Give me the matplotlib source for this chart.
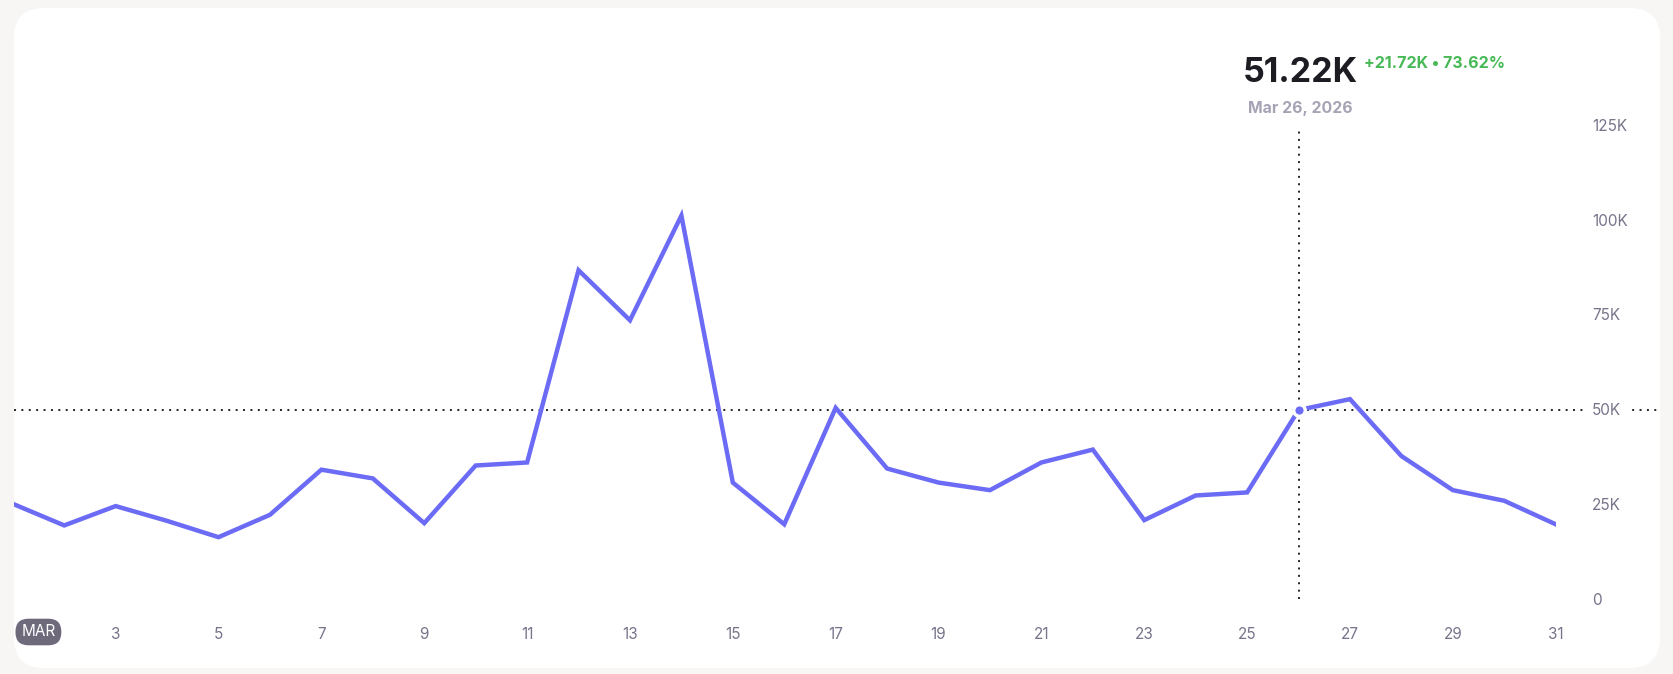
import matplotlib
matplotlib.use("Agg")
import matplotlib.pyplot as plt
from matplotlib.patches import FancyBboxPatch
from matplotlib.transforms import blended_transform_factory, ScaledTranslation

plt.rcParams["font.family"] = ["Inter", "DejaVu Sans"]

# daily values for March 2026, in thousands
days = list(range(1, 32))
values = [26.5, 20.8, 25.9, 22.0, 17.7, 23.6, 35.5, 33.2, 21.4, 36.6,
          37.4, 88.1, 74.9, 102.5, 32.1, 21.1, 51.8, 35.8, 32.1, 30.1,
          37.4, 40.8, 22.2, 28.7, 29.50, 51.22, 54.1, 39.1, 30.1, 27.3,
          21.1]
x_ticks = [3, 5, 7, 9, 11, 13, 15, 17, 19, 21, 23, 25, 27, 29, 31]
y_ticks = [0, 25, 50, 75, 100, 125]
y_labels = ["0", "25K", "50K", "75K", "100K", "125K"]
hover_day = 26
hover_value = 51.22
headline = "51.22K"
change_text = "+21.72K \u2022 73.62%"
date_text = "Mar 26, 2026"

LINE = "#6b6bf6"
GREY = "#78738a"
W, H = 1674, 674

fig = plt.figure(figsize=(W / 100, H / 100), dpi=100)
fig.patch.set_facecolor("#f7f6f4")

# white rounded card, behind everything
card = FancyBboxPatch((14, H - 668), 1646, 660,
                      boxstyle="round,pad=0,rounding_size=30",
                      transform=None, facecolor="white", edgecolor="none",
                      zorder=-5)
fig.patches.append(card)

ax = fig.add_axes([12.8 / W, 1 - 604.3 / H, (1555.7 - 12.8) / W, (604.3 - 130.3) / H])
ax.set_zorder(2)
ax.set_facecolor("none")
for s in ax.spines.values():
    s.set_visible(False)
ax.set_xlim(1, 31)
ax.set_ylim(0, 125)

# hover guides
dot = (0, (1, 2.8))
hz = blended_transform_factory(fig.transFigure, ax.transData)
ax.plot([14 / W, 1658 / W], [hover_value, hover_value], transform=hz,
        color="#222222", lw=1.4, ls=dot, clip_on=False, zorder=1)
ax.vlines(hover_day, 1.4, 125, color="#222222", lw=1.4, linestyles=dot, zorder=1)

line, = ax.plot(days, values, color=LINE, lw=3.2, solid_joinstyle="miter",
                zorder=3)
line.set_clip_path(card)
ax.plot([hover_day], [hover_value], "o", ms=8.3, mfc=LINE, mec="white",
        mew=2.4, zorder=4, clip_on=False)

ax.set_xticks(x_ticks)
ax.set_xticklabels([str(d) for d in x_ticks])
ax.tick_params(axis="x", length=0, pad=16, labelsize=11, labelcolor=GREY)

ax.yaxis.tick_right()
ax.set_yticks(y_ticks)
ax.set_yticklabels(y_labels)
ax.tick_params(axis="y", length=0, pad=26, labelsize=11, labelcolor=GREY)
shift = ScaledTranslation(0, 5.4 / 100, fig.dpi_scale_trans)
for lab in ax.get_yticklabels():
    lab.set_transform(lab.get_transform() + shift)
    lab.set_horizontalalignment("left")
    if lab.get_text() == "50K":
        lab.set_bbox(dict(facecolor="white", edgecolor="none", pad=5))

# month pill
fig.text(38.4 / W, 1 - 632 / H, "MAR", ha="center", va="center",
         fontsize=11, color="white", zorder=5,
         bbox=dict(boxstyle="round,pad=0.38,rounding_size=0.85",
                   facecolor="#6e6a7c", edgecolor="none"))

# header
fig.text(1243 / W, 1 - 82 / H, headline, fontsize=24.5, fontweight="bold",
         color="#1c1c22", va="baseline", zorder=5)
fig.text(1364 / W, 1 - 68 / H, change_text, fontsize=11.5, fontweight="bold",
         color="#46b955", va="baseline", zorder=5)
fig.text(1248 / W, 1 - 113 / H, date_text, fontsize=11.4, fontweight="bold",
         color="#a6a4b4", va="baseline", zorder=5)

fig.savefig("out.png", dpi=100, facecolor=fig.get_facecolor())
